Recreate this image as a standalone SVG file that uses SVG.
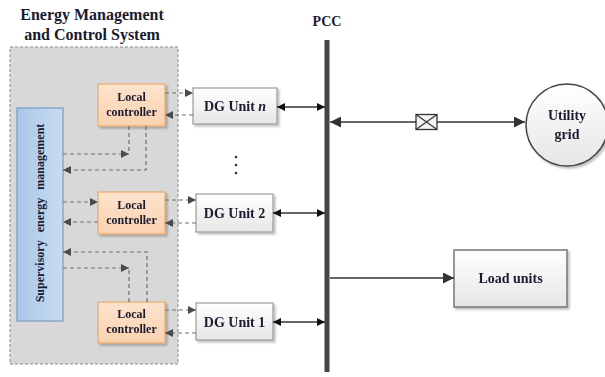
<svg xmlns="http://www.w3.org/2000/svg" width="605" height="377" viewBox="0 0 605 377">
<style>
text{font-family:"Liberation Serif","Times New Roman",serif;font-weight:bold;fill:#1a1a2e}
.ttl{font-size:16px}
.dg{font-size:14px}
.lc{font-size:12px}
.dash{fill:none;stroke:#6e6e6e;stroke-width:1.2;stroke-dasharray:4 3}
.sol{fill:none;stroke:#333;stroke-width:1.6}
</style>
<defs>
<linearGradient id="gBlue" x1="0" y1="0" x2="1" y2="0"><stop offset="0" stop-color="#a9c6e8"/><stop offset="1" stop-color="#c9dcf0"/></linearGradient>
<linearGradient id="gGray" x1="0" y1="0" x2="0" y2="1"><stop offset="0" stop-color="#ffffff"/><stop offset="1" stop-color="#e6e6e6"/></linearGradient>
<linearGradient id="gPeach" x1="0" y1="0" x2="0" y2="1"><stop offset="0" stop-color="#fde3cc"/><stop offset="1" stop-color="#f9d2b0"/></linearGradient>
<filter id="sh" x="-10%" y="-10%" width="130%" height="130%"><feDropShadow dx="2" dy="2" stdDeviation="1.2" flood-color="#000" flood-opacity="0.25"/></filter>
<marker id="ad" viewBox="0 0 10 10" refX="10" refY="5" markerWidth="9" markerHeight="8" markerUnits="userSpaceOnUse" orient="auto-start-reverse"><path d="M0,0 L10,5 L0,10 Z" fill="#4a4a4a"/></marker>
<marker id="ab" viewBox="0 0 10 10" refX="10" refY="5" markerWidth="10" markerHeight="8" markerUnits="userSpaceOnUse" orient="auto-start-reverse"><path d="M0,0 L10,5 L0,10 Z" fill="#111"/></marker>
<marker id="al" viewBox="0 0 10 10" refX="10" refY="5" markerWidth="15" markerHeight="11" markerUnits="userSpaceOnUse" orient="auto-start-reverse"><path d="M0,0 L10,5 L0,10 Z" fill="#333"/></marker>
</defs>

<g id="ems">
<text class="ttl" x="92" y="20" text-anchor="middle">Energy Management</text>
<text class="ttl" x="92" y="40" text-anchor="middle">and Control System</text>
<rect x="10" y="47" width="168" height="317" fill="#d8d8d8" stroke="#8a8a8a" stroke-width="1" stroke-dasharray="3 2"/>
</g>

<g id="supervisory">
<rect x="17" y="108" width="46" height="213" fill="url(#gBlue)" stroke="#7b9cc4" stroke-width="1.2"/>
<text class="lc" transform="translate(44,213) rotate(-90)" text-anchor="middle" word-spacing="5">Supervisory energy management</text>
</g>

<g id="lc-n" filter="url(#sh)">
<rect x="98" y="84" width="67" height="42" fill="url(#gPeach)" stroke="#e9a96f" stroke-width="1.2"/>
<text class="lc" x="131.5" y="101" text-anchor="middle">Local</text>
<text class="lc" x="131.5" y="116" text-anchor="middle">controller</text>
</g>
<g id="lc-2" filter="url(#sh)">
<rect x="98" y="192" width="67" height="42" fill="url(#gPeach)" stroke="#e9a96f" stroke-width="1.2"/>
<text class="lc" x="131.5" y="209" text-anchor="middle">Local</text>
<text class="lc" x="131.5" y="224" text-anchor="middle">controller</text>
</g>
<g id="lc-1" filter="url(#sh)">
<rect x="98" y="302" width="67" height="41" fill="url(#gPeach)" stroke="#e9a96f" stroke-width="1.2"/>
<text class="lc" x="131.5" y="318" text-anchor="middle">Local</text>
<text class="lc" x="131.5" y="333" text-anchor="middle">controller</text>
</g>

<g id="dg-n" filter="url(#sh)">
<rect x="193" y="88" width="84" height="36" fill="url(#gGray)" stroke="#9a9a9a" stroke-width="1.2"/>
<text class="dg" x="235" y="111" text-anchor="middle">DG Unit <tspan font-style="italic">n</tspan></text>
</g>
<g id="dg-2" filter="url(#sh)">
<rect x="196" y="194" width="77" height="38" fill="url(#gGray)" stroke="#9a9a9a" stroke-width="1.2"/>
<text class="dg" x="234.5" y="218" text-anchor="middle">DG Unit 2</text>
</g>
<g id="dg-1" filter="url(#sh)">
<rect x="196" y="303" width="77" height="37" fill="url(#gGray)" stroke="#9a9a9a" stroke-width="1.2"/>
<text class="dg" x="234.5" y="327" text-anchor="middle">DG Unit 1</text>
</g>

<g id="dots" fill="#333">
<circle cx="236" cy="157" r="1.3"/><circle cx="236" cy="165" r="1.3"/><circle cx="236" cy="173" r="1.3"/>
</g>

<g id="pcc">
<text class="dg" x="327" y="26" text-anchor="middle">PCC</text>
<line x1="327" y1="40" x2="327" y2="372" stroke="#444" stroke-width="5"/>
</g>

<g id="utility" filter="url(#sh)">
<circle cx="567" cy="125" r="41" fill="url(#gGray)" stroke="#444" stroke-width="1.5"/>
<text class="dg" x="567" y="120" text-anchor="middle">Utility</text>
<text class="dg" x="567" y="139" text-anchor="middle">grid</text>
</g>

<g id="load" filter="url(#sh)">
<rect x="454" y="250" width="113" height="57" fill="url(#gGray)" stroke="#777" stroke-width="1.5"/>
<text class="dg" x="510.5" y="283" text-anchor="middle">Load units</text>
</g>

<g id="connectors">
<path class="dash" d="M165,93 H193" marker-end="url(#ad)"/>
<path class="dash" d="M193,115 H165" marker-end="url(#ad)"/>
<path class="dash" d="M129,126 V154"/>
<path class="dash" d="M63,154 H129" marker-end="url(#ad)"/>
<path class="dash" d="M146,126 V170 H63" marker-end="url(#ad)"/>
<path class="dash" d="M165,200 H196" marker-end="url(#ad)"/>
<path class="dash" d="M196,223 H165" marker-end="url(#ad)"/>
<path class="dash" d="M63,202 H98" marker-end="url(#ad)"/>
<path class="dash" d="M98,222 H63" marker-end="url(#ad)"/>
<path class="dash" d="M165,310 H196" marker-end="url(#ad)"/>
<path class="dash" d="M196,333 H165" marker-end="url(#ad)"/>
<path class="dash" d="M147,302 V252 H63" marker-end="url(#ad)"/>
<path class="dash" d="M129,302 V268"/>
<path class="dash" d="M63,268 H129" marker-end="url(#ad)"/>
<path class="sol" d="M277,107 H325" stroke="#222" marker-start="url(#ab)" marker-end="url(#ab)"/>
<path class="sol" d="M273,213 H325" stroke="#222" marker-start="url(#ab)" marker-end="url(#ab)"/>
<path class="sol" d="M273,322 H325" stroke="#222" marker-start="url(#ab)" marker-end="url(#ab)"/>
<path class="sol" d="M330,122 H416" marker-start="url(#al)"/>
<path class="sol" d="M437,122 H525" marker-end="url(#al)"/>
<rect x="416" y="114.5" width="21" height="15" fill="#f4f4f4" stroke="#333" stroke-width="1.3"/>
<path d="M416,114.5 L437,129.5 M437,114.5 L416,129.5" stroke="#333" stroke-width="1.2" fill="none"/>
<path class="sol" d="M330,278 H454" marker-end="url(#al)"/>
</g>
</svg>
